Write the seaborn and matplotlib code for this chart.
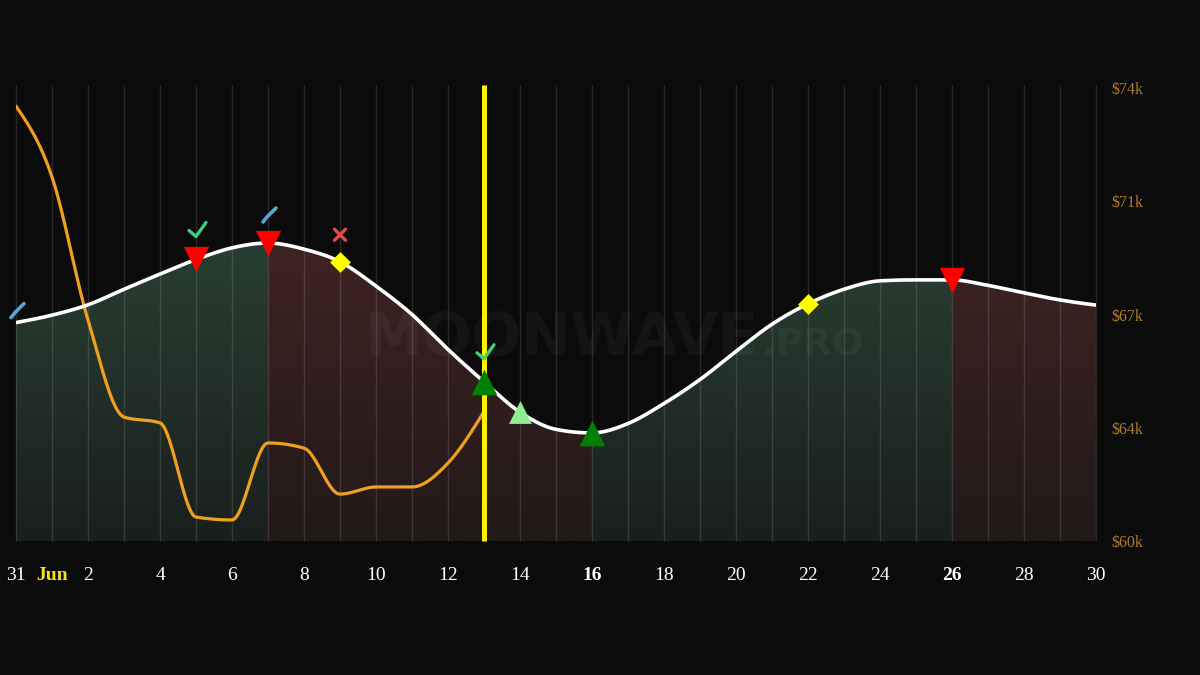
import numpy as np
import pandas as pd
import matplotlib
matplotlib.use("Agg")
import matplotlib.pyplot as plt
from matplotlib.patches import Polygon
from matplotlib.transforms import ScaledTranslation
import seaborn as sns

# ---------------- data ----------------
days = list(range(31))  # 0 = May 31, 1..30 = Jun 1..30
price_k = [66.75, 66.98, 67.30, 67.78, 68.25, 68.70, 69.06, 69.21, 69.02, 68.63,
           67.88, 67.00, 65.92, 64.92, 63.98, 63.45, 63.34, 63.63, 64.25, 64.99,
           65.86, 66.70, 67.33, 67.78, 68.04, 68.07, 68.07, 67.90, 67.67, 67.45, 67.29]
indicator_k = [73.44, 71.25, 66.83, 63.83, 63.65, 60.74, 60.65, 63.03, 62.87, 61.45,
               61.67, 61.67, 62.41, 64.00]
trend_breaks = [0, 7, 16, 26, 30]
trend_dirs = ["up", "down", "up", "down"]
sell_days = [5, 7, 26]
hold_days = [9, 22]
buy_days = [13, 16]
weak_buy_days = [14]
check_days = [5, 13]
stroke_days = [0, 7]
cross_days = [9]
today = 13
xtick_days = [0, 1, 2, 4, 6, 8, 10, 12, 14, 16, 18, 20, 22, 24, 26, 28, 30]
xtick_labels = ["31", "Jun", "2", "4", "6", "8", "10", "12", "14", "16", "18", "20",
                "22", "24", "26", "28", "30"]
bold_labels = ["16", "26"]
ytick_vals = [60, 63.5, 67, 70.5, 74]
ytick_labels = ["$60k", "$64k", "$67k", "$71k", "$74k"]


def monotone(x, y, n=24):
    """Monotone cubic (d3 curveMonotoneX style) rendering of a polyline."""
    x = np.asarray(x, float)
    y = np.asarray(y, float)
    h = np.diff(x)
    s = np.diff(y) / h
    m = np.zeros_like(y)
    for i in range(1, len(y) - 1):
        s0, s1 = s[i - 1], s[i]
        p = (s0 * h[i] + s1 * h[i - 1]) / (h[i - 1] + h[i])
        m[i] = (np.sign(s0) + np.sign(s1)) * min(abs(s0), abs(s1), 0.5 * abs(p))
    m[0] = (3 * s[0] - m[1]) / 2
    m[-1] = (3 * s[-1] - m[-2]) / 2
    xs, ys = [], []
    for k in range(len(h)):
        t = np.linspace(0, 1, n, endpoint=(k == len(h) - 1))
        h00 = 2 * t**3 - 3 * t**2 + 1
        h10 = t**3 - 2 * t**2 + t
        h01 = -2 * t**3 + 3 * t**2
        h11 = t**3 - t**2
        xs.append(x[k] + t * h[k])
        ys.append(h00 * y[k] + h10 * h[k] * m[k] + h01 * y[k + 1] + h11 * h[k] * m[k + 1])
    return np.concatenate(xs), np.concatenate(ys)


BG = "#0b0b0b"
sns.set_theme(style="dark")
plt.rcParams["font.family"] = ["Liberation Serif", "DejaVu Serif"]

fig = plt.figure(figsize=(12, 6.75), dpi=100, facecolor=BG)
ax = fig.add_axes([16 / 1200, 134 / 675, 1080 / 1200, 453 / 675])
ax.set_facecolor(BG)

YMIN, YMAX = 60, 74
px, py = monotone(days, price_k)
ox, oy = monotone(days[:len(indicator_k)], indicator_k)

# gradient area fills under the price line
grad_cols = {
    "up": (np.array([26, 31, 29]), np.array([40, 62, 50])),
    "down": (np.array([34, 25, 25]), np.array([62, 35, 35])),
}
vals = np.linspace(YMIN, YMAX, 256)
for (a, b), d in zip(zip(trend_breaks[:-1], trend_breaks[1:]), trend_dirs):
    lo, hi = grad_cols[d]
    frac = np.clip((vals - YMIN) / (69 - YMIN), 0, 1)[:, None]
    rgb = (lo + frac * (hi - lo)) / 255.0
    img = np.concatenate([rgb, np.ones((len(vals), 1))], axis=1)[:, None, :]
    mask = (px >= a - 1e-9) & (px <= b + 1e-9)
    verts = np.column_stack([px[mask], py[mask]])
    verts = np.vstack([verts, [[b, YMIN], [a, YMIN]]])
    poly = Polygon(verts, closed=True, fc="none", ec="none", transform=ax.transData)
    ax.add_patch(poly)
    im = ax.imshow(img, extent=[a, b, YMIN, YMAX], origin="lower", aspect="auto",
                   zorder=0.2, interpolation="bilinear")
    im.set_clip_path(poly)

# day grid lines
ax.vlines(days, YMIN, YMAX + 0.09, colors=(1, 1, 1, 0.12), linewidth=1.0,
          zorder=0.5, clip_on=False)

# watermark
ax.text((759 - 16) / 1080, 0.41, "MOONWAVE", transform=ax.transAxes, ha="right",
        va="baseline", fontsize=42, fontweight="bold", family="DejaVu Sans",
        color=(1, 1, 1, 0.038), zorder=0.6)
ax.text((761 - 16) / 1080, 0.41, ".PRO", transform=ax.transAxes, ha="left",
        va="baseline", fontsize=27, fontweight="bold", family="DejaVu Sans",
        color=(1, 1, 1, 0.038), zorder=0.6)

# lines
sns.lineplot(x=ox, y=oy, sort=False, estimator=None, color="#f0a020", linewidth=2.3,
             ax=ax, zorder=3)
sns.lineplot(x=px, y=py, sort=False, estimator=None, color="white", linewidth=2.6,
             ax=ax, zorder=4)

# today line
vl = ax.axvline(today, ymin=0, ymax=(YMAX + 0.09 - YMIN) / (YMAX - YMIN), color="#fff200",
                linewidth=3.6, zorder=5, clip_on=False)
vl.set_solid_capstyle("butt")

# signal markers
def pts(dlist):
    return pd.DataFrame({"day": dlist, "price": [price_k[d] for d in dlist]})

sns.scatterplot(data=pts(sell_days), x="day", y="price", marker="v", s=330,
                color="#ff0000", linewidth=0, ax=ax, zorder=6)
sns.scatterplot(data=pts(hold_days), x="day", y="price", marker="D", s=112,
                color="#ffff00", linewidth=0, ax=ax, zorder=6)
sns.scatterplot(data=pts(buy_days), x="day", y="price", marker="^", s=340,
                color="#008000", linewidth=0, ax=ax, zorder=6)
sns.scatterplot(data=pts(weak_buy_days), x="day", y="price", marker="^", s=270,
                color="#90ee90", linewidth=0, ax=ax, zorder=6)

# small annotation glyphs above the markers (pixel geometry, dpi=100)
marker_days = set(sell_days + hold_days + buy_days + weak_buy_days)

def glyph(day, xs_px, ys_px, color, lw, lift):
    tr = fig.dpi_scale_trans + ScaledTranslation(day, price_k[day], ax.transData)
    ax.plot(np.array(xs_px) / 100, (np.array(ys_px) + lift) / 100, color=color,
            linewidth=lw, solid_capstyle="round", solid_joinstyle="round",
            transform=tr, zorder=7, clip_on=False)

for d in check_days:
    lift = 30 if d in marker_days else 12
    glyph(d, [-7, 0, 10], [-1, -7, 7], "#3fcf78", 2.4, lift)
for d in stroke_days:
    lift = 28 if d in marker_days else 12
    glyph(d, [-5, -1, 3, 8], [-7, -2, 2, 7], "#5aa6d2", 2.6, lift)
for d in cross_days:
    lift = 27 if d in marker_days else 12
    glyph(d, [-5.5, 5.5], [-5.5, 5.5], "#e04a4a", 2.4, lift)
    glyph(d, [-5.5, 5.5], [5.5, -5.5], "#e04a4a", 2.4, lift)

# axes styling
ax.set_xlim(0, 30)
ax.set_ylim(YMIN, YMAX)
for sp in ax.spines.values():
    sp.set_visible(False)
ax.grid(False)
ax.set_xlabel("")
ax.set_ylabel("")
ax.yaxis.tick_right()
ax.set_yticks(ytick_vals)
ax.set_yticklabels(ytick_labels)
ax.tick_params(axis="y", colors="#b07b2c", labelsize=11.5, pad=11, length=0)
ax.set_xticks(xtick_days)
ax.set_xticklabels(xtick_labels)
ax.tick_params(axis="x", colors="white", labelsize=14, pad=18.5, length=0)
for lab in ax.get_xticklabels():
    t = lab.get_text()
    if t == "Jun":
        lab.set_color("#f2e21b")
        lab.set_fontweight("bold")
    elif t in bold_labels:
        lab.set_fontweight("bold")

fig.savefig("out.png", dpi=100, facecolor=BG)
